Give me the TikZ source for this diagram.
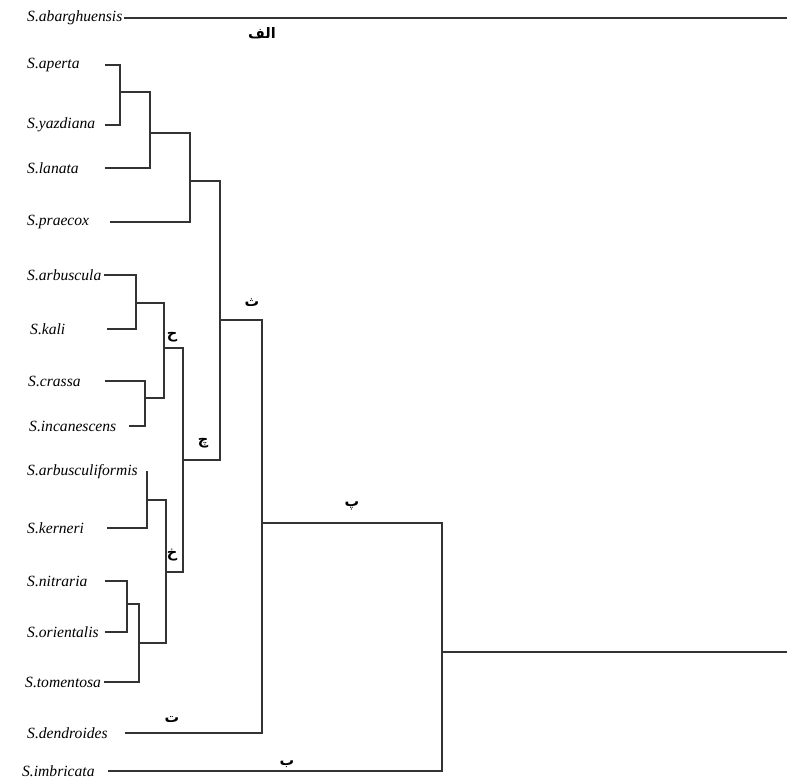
\documentclass[tikz,border=0pt]{standalone}
\usepackage{fontspec}
\setmainfont{Liberation Serif}
\newfontfamily\arabicfont[Script=Arabic]{DejaVu Sans}
\TeXXeTstate=1

\tikzset{
  taxon/.style={anchor=west, inner sep=0pt, text width=#1, align=left,
    font=\itshape\fontsize{15.6}{15.6}\selectfont},
  branch/.style={line width=1.1pt, draw=black!80},
  clade/.style={inner sep=0pt, font=\arabicfont\bfseries\fontsize{14.5}{14.5}\selectfont},
}

\begin{document}
\begin{tikzpicture}[x=1pt,y=-1pt]
  \useasboundingbox (0,0) rectangle (787,780);
  % taxa
  \node[taxon=97pt] (abar) at (27,18) {S.abarghuensis};
  \node[taxon=78pt] (aper) at (27,65) {S.aperta};
  \node[taxon=78pt] (yazd) at (27,125) {S.yazdiana};
  \node[taxon=78pt] (lana) at (27,168) {S.lanata};
  \node[taxon=83pt] (prae) at (27,222) {S.praecox};
  \node[taxon=77pt] (arbu) at (27,275) {S.arbuscula};
  \node[taxon=77pt] (kali) at (30,329) {S.kali};
  \node[taxon=77pt] (cras) at (28,381) {S.crassa};
  \node[taxon=100pt] (inca) at (29,426) {S.incanescens};
  \node[taxon=120pt] (arbf) at (27,472) {S.arbusculiformis};
  \node[taxon=80pt] (kern) at (27,528) {S.kerneri};
  \node[taxon=78pt] (nitr) at (27,581) {S.nitraria};
  \node[taxon=78pt] (orie) at (27,632) {S.orientalis};
  \node[taxon=79pt] (tome) at (25,682) {S.tomentosa};
  \node[taxon=98pt] (dend) at (27,733) {S.dendroides};
  \node[taxon=86pt] (imbr) at (22,771) {S.imbricata};
  % joins
  \coordinate (n1) at (120,92);
  \coordinate (n2) at (150,133);
  \coordinate (n3) at (190,181);
  \coordinate (n4) at (220,320);
  \coordinate (n5) at (136,303);
  \coordinate (n6) at (145,398);
  \coordinate (n7) at (164,348);
  \coordinate (n8) at (147,500);
  \coordinate (n9) at (127,604);
  \coordinate (n10) at (139,643);
  \coordinate (n11) at (166,572);
  \coordinate (n12) at (183,460);
  \coordinate (n13) at (262,523);
  \coordinate (n14) at (442,652);
  \coordinate (ra) at (787,18);
  \coordinate (rb) at (787,652);
  % branches
  \draw[branch] (aper.east) -| (n1);
  \draw[branch] (yazd.east) -| (n1);
  \draw[branch] (n1) -| (n2);
  \draw[branch] (lana.east) -| (n2);
  \draw[branch] (n2) -| (n3);
  \draw[branch] (prae.east) -| (n3);
  \draw[branch] (n3) -| (n4);
  \draw[branch] (arbu.east) -| (n5);
  \draw[branch] (kali.east) -| (n5);
  \draw[branch] (cras.east) -| (n6);
  \draw[branch] (inca.east) -| (n6);
  \draw[branch] (n5) -| (n7);
  \draw[branch] (n6) -| (n7);
  \draw[branch] (arbf.east) -| (n8);
  \draw[branch] (kern.east) -| (n8);
  \draw[branch] (nitr.east) -| (n9);
  \draw[branch] (orie.east) -| (n9);
  \draw[branch] (n9) -| (n10);
  \draw[branch] (tome.east) -| (n10);
  \draw[branch] (n8) -| (n11);
  \draw[branch] (n10) -| (n11);
  \draw[branch] (n7) -| (n12);
  \draw[branch] (n11) -| (n12);
  \draw[branch] (n12) -| (n4);
  \draw[branch] (n4) -| (n13);
  \draw[branch] (dend.east) -| (n13);
  \draw[branch] (n13) -| (n14);
  \draw[branch] (imbr.east) -| (n14);
  \draw[branch] (n14) -- (rb);
  \draw[branch] (abar.east) -- (ra);
  % clade letters
  \node[clade] (alef) at (262,33) {\beginR الف\endR};
  \node[clade] (be) at (287,764) {\beginR ب\endR};
  \node[clade] (pe) at (352,506) {\beginR پ\endR};
  \node[clade] (te) at (172,720) {\beginR ت\endR};
  \node[clade] (se) at (252,303) {\beginR ث\endR};
  \node[clade] (he) at (172,337) {\beginR ح\endR};
  \node[clade] (che) at (203,443) {\beginR چ\endR};
  \node[clade] (khe) at (172,555) {\beginR خ\endR};
\end{tikzpicture}
\end{document}
